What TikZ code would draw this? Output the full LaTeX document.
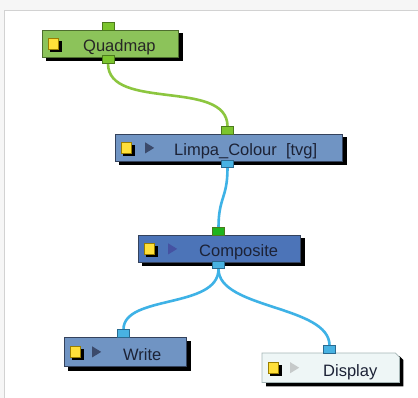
\documentclass[tikz,border=0pt]{standalone}
\usepackage{fontspec}
\setmainfont{Liberation Sans}
\usepackage{xcolor}
\usetikzlibrary{shapes.geometric, positioning, backgrounds}

\definecolor{panelgray}{HTML}{F6F6F6}
\definecolor{frameline}{HTML}{D2D2D2}
\definecolor{quadfill}{HTML}{8CC35A}
\definecolor{quadline}{HTML}{4E6E2E}
\definecolor{bluefill}{HTML}{7094C3}
\definecolor{compfill}{HTML}{4C74B8}
\definecolor{blueline}{HTML}{34425C}
\definecolor{dispfill}{HTML}{EEF6F6}
\definecolor{displine}{HTML}{A6B6B6}
\definecolor{greenport}{HTML}{7CC52E}
\definecolor{greenportline}{HTML}{4C7A1C}
\definecolor{brightport}{HTML}{1EB41E}
\definecolor{blueport}{HTML}{48B2E2}
\definecolor{blueportline}{HTML}{2A6A90}
\definecolor{greenwire}{HTML}{8CC63F}
\definecolor{bluewire}{HTML}{3EB2E6}
\definecolor{iconyellow}{HTML}{FFE03A}
\definecolor{iconline}{HTML}{9A7E00}
\definecolor{tridark}{HTML}{3B4A6B}
\definecolor{triviolet}{HTML}{4552A2}
\definecolor{trilight}{HTML}{C6CACA}
\definecolor{labeltext}{HTML}{1C2236}

\tikzset{
  blackshadow/.style={preaction={fill=black, draw=black, transform canvas={shift={(#1,-#1)}}}},
  nodebox/.style={draw=blueline, fill=bluefill, line width=0.8pt, inner sep=0pt,
    anchor=north west, minimum height=27pt, blackshadow=3.5pt},
  icon/.style={draw=iconline, fill=iconyellow, line width=0.5pt, minimum size=10.5pt,
    inner sep=0pt, blackshadow=2.5pt},
  playtri/.style={isosceles triangle, isosceles triangle stretches, fill=#1,
    minimum width=11pt, minimum height=9pt, inner sep=0pt},
  port/.style={draw=blueportline, fill=blueport, line width=0.6pt,
    minimum width=12pt, minimum height=7.5pt, inner sep=0pt},
  nodelabel/.style={font=\fontsize{16.5}{18}\selectfont, text=labeltext, inner sep=0pt,
    anchor=base west},
  wire/.style={line width=2.6pt}
}

\begin{document}
\begin{tikzpicture}[x=1pt, y=-1pt]
\useasboundingbox (0,0) rectangle (418,398);

% nodes
\node[nodebox, fill=quadfill, draw=quadline, minimum width=136pt] (quadmap) at (42,30) {};
\node[nodebox, minimum width=227pt] (limpa) at (115,134) {};
\node[nodebox, fill=compfill, minimum width=162pt] (composite) at (138,235) {};
\node[nodebox, minimum width=122pt, minimum height=29pt] (write) at (64,337) {};
\node[inner sep=0pt, anchor=north west, minimum width=137pt, minimum height=29pt] (display) at (262,353) {};
% display box with its cut corner
\fill[black] ([shift={(4,4)}]display.south west) -- ([shift={(4,4)}]display.south east)
  -- ([shift={(4,7)}]display.north east) -- ([shift={(0,3)}]display.north east)
  -- ([shift={(4,3)}]display.north west) -- cycle;
\draw[fill=dispfill, draw=displine, line width=0.8pt]
  (display.south west) |- ([xshift=-4pt]display.north east)
  -- ([yshift=-4pt]display.north east) |- cycle;

% icons
\node[icon, right=5.5pt of quadmap.west] (quadmap-icon) {};
\node[icon, right=5.5pt of limpa.west] (limpa-icon) {};
\node[icon, right=5.5pt of composite.west] (composite-icon) {};
\node[icon, right=5.5pt of write.west] (write-icon) {};
\node[icon, right=5.5pt of display.west] (display-icon) {};

\node[playtri=tridark, right=30pt of limpa.west] (limpa-play) {};
\node[playtri=triviolet, right=30pt of composite.west] (composite-play) {};
\node[playtri=tridark, right=28pt of write.west] (write-play) {};
\node[playtri=trilight, right=28pt of display.west] (display-play) {};

% labels
\node[nodelabel, text=black!85] (quadmap-name) at (83,52) {Quadmap};
\node[nodelabel] (limpa-name) at (174,155.5) {Limpa\_Colour\ \ [tvg]};
\node[nodelabel] (composite-name) at (199,257) {Composite};
\node[nodelabel] (write-name) at (123,360.5) {Write};
\node[nodelabel] (display-name) at (323,376.5) {Display};

% ports
\node[port, draw=greenportline, fill=greenport, anchor=south] (quadmap-in) at (108,30.5) {};
\node[port, draw=greenportline, fill=greenport] (quadmap-out) at (108,59.5) {};
\node[port, draw=greenportline, fill=greenport, anchor=south] (limpa-in) at (227.5,134.5) {};
\node[port] (limpa-out) at (227.5,164) {};
\node[port, draw=greenportline, fill=brightport, anchor=south] (composite-in) at (218.5,235.5) {};
\node[port] (composite-out) at (218.5,265) {};
\node[port, anchor=south] (write-in) at (123.5,337.5) {};
\node[port, anchor=south] (display-in) at (329.5,353.5) {};

\begin{scope}[on background layer]
\fill[panelgray] (0,0) rectangle (418,398);
\fill[white] (4.5,10.5) rectangle (418,398);
\draw[frameline, line width=1.2pt] (4.5,398) -- (4.5,10.5) -- (418,10.5);

% connectors
\draw[wire, greenwire] (quadmap-out.south) .. controls +(0,48) and +(0,-48) .. (limpa-in.north);
\draw[wire, bluewire] (limpa-out.south) .. controls +(0,30) and +(0,-30) .. (composite-in.north);
\draw[wire, bluewire] (composite-out.south) .. controls +(0,40) and +(0,-35) .. (write-in.north);
\draw[wire, bluewire] (composite-out.south) .. controls +(0,40) and +(0,-40) .. (display-in.north);
\end{scope}
\end{tikzpicture}
\end{document}
